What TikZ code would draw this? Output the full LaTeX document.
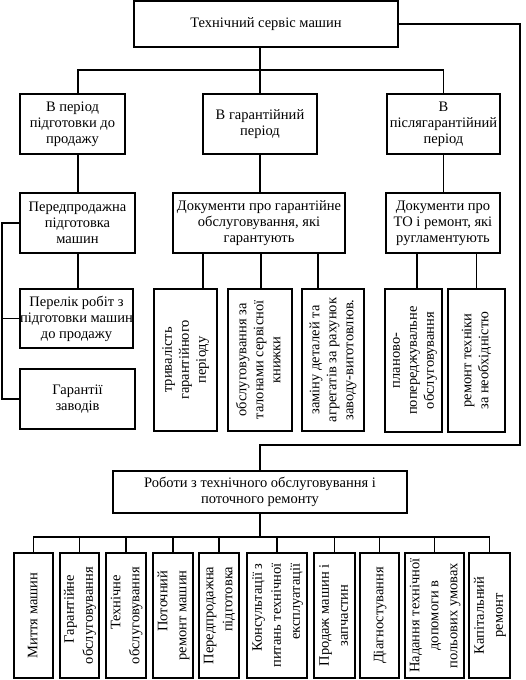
\documentclass[tikz,border=0pt]{standalone}
\usepackage{fontspec}
\setmainfont{Liberation Serif}
\newcommand{\vtext}[3]{\rotatebox{90}{\fontsize{14.5}{#1}\selectfont\begin{tabular}{@{}#2@{}}#3\end{tabular}}}
\begin{document}
\begin{tikzpicture}[x=1pt,y=-1pt,line width=1.9pt,
  box/.style={draw,line width=1.9pt,inner sep=0pt,align=center,font=\fontsize{14.5}{16}\selectfont},
  conn/.style={draw,line width=1.9pt}]
\useasboundingbox (0,0) rectangle (525,680);
% top level
\node[box,minimum width=264pt,minimum height=46pt] (top) at (266,24) {Технічний сервіс машин};
\node[box,minimum width=105pt,minimum height=60pt] (a) at (72.5,124) {В період\\підготовки до\\продажу};
\node[box,minimum width=114pt,minimum height=60pt] (b) at (260,124) {В гарантійний\\період};
\node[box,minimum width=113pt,minimum height=60pt] (c) at (443.5,124) {В\\післягарантійний\\період};
% level 3
\node[box,minimum width=115pt,minimum height=60pt] (a3) at (77.5,223) {Передпродажна\\підготовка\\машин};
\node[box,minimum width=172pt,minimum height=60pt] (docs) at (259,223) {Документи про гарантійне\\обслуговування, які\\гарантують};
\node[box,minimum width=114pt,minimum height=60pt] (c3) at (443,223) {Документи про\\ТО і ремонт, які\\ругламентують};
\node[box,minimum width=113pt,minimum height=59pt] (a4) at (76.5,318.5) {Перелік робіт з\\підготовки машин\\до продажу};
\node[box,minimum width=115pt,minimum height=60pt] (a5) at (77.5,399) {Гарантії\\заводів};
% vertical boxes, middle
\node[box,minimum width=63pt,minimum height=142pt] (v1) at (185.5,360) {\vtext{17}{c}{тривалість\\гарантійного\\періоду}};
\node[box,minimum width=64pt,minimum height=142pt] (v2) at (260,360) {\vtext{17}{c}{обслуговування за\\талонами сервісної\\книжки}};
\node[box,minimum width=62pt,minimum height=142pt] (v3) at (333,360) {\vtext{17}{c}{заміну деталей та\\агрегатів за рахунок\\заводу-виготовлюв.}};
\node[box,minimum width=57pt,minimum height=143pt] (v4) at (413.5,360.5) {\vtext{17}{c}{планово-\\попереджувальне\\обслуговування}};
\node[box,minimum width=57pt,minimum height=143pt] (v5) at (476.5,360.5) {\vtext{17}{c}{ремонт техніки\\за необхідністю}};
% bottom
\node[box,minimum width=294pt,minimum height=42pt] (bot) at (260,492) {Роботи з технічного обслуговування і\\поточного ремонту};
\node[box,minimum width=39pt,minimum height=125pt] (w1) at (33.5,615.5) {\vtext{19}{c}{Миття машин}};
\node[box,minimum width=39pt,minimum height=125pt] (w2) at (79.5,615.5) {\vtext{19}{r}{Гарантійне\hspace*{8pt}\\обслуговування}};
\node[box,minimum width=40pt,minimum height=125pt] (w3) at (126,615.5) {\vtext{19}{r}{Технічне\hspace*{8pt}\\обслуговування}};
\node[box,minimum width=40pt,minimum height=125pt] (w4) at (173,615.5) {\vtext{19}{r}{Поточний\\ремонт машин}};
\node[box,minimum width=40pt,minimum height=125pt] (w5) at (219,615.5) {\vtext{19}{r}{Передпродажна\\підготовка}};
\node[box,minimum width=60pt,minimum height=125pt] (w6) at (277,615.5) {\vtext{19}{r}{Консультації з\\питань технічної\\експлуатації}};
\node[box,minimum width=41pt,minimum height=125pt] (w7) at (334.5,615.5) {\vtext{19}{c}{Продаж машин і\\запчастин}};
\node[box,minimum width=39pt,minimum height=125pt] (w8) at (379.5,615.5) {\vtext{19}{c}{Діагностування}};
\node[box,minimum width=59pt,minimum height=125pt] (w9) at (434.5,615.5) {\vtext{19}{c}{Надання технічної\\допомоги в\\польових умовах}};
\node[box,minimum width=41pt,minimum height=125pt] (w10) at (489.5,615.5) {\vtext{19}{c}{Капітальний\\ремонт}};
% connectors top
\coordinate (topbus) at (260,70);
\coordinate (aT) at ([xshift=5.5pt]a.north);
\draw[conn] (top.south -| topbus) -- (topbus);
\draw[conn] (aT) |- (topbus);
\draw[conn] (b.north) -- (topbus);
\draw[conn] (c.north) |- (topbus);
\draw[conn] (aT |- a.south) -- (aT |- a3.north);
\draw[conn] (b.south) -- (b.south |- docs.north);
\draw[conn] (c.south) -- (c.south |- c3.north);
\draw[conn] (aT |- a3.south) -- (aT |- a4.north);
% left bracket
\coordinate (lb) at (2,0);
\draw[conn] (a3.west) -| (lb |- a5.west) -- (a5.west);
\draw[conn] (a4.west) -- (a4.west -| lb);
% docs children
\coordinate (v1t) at ([xshift=17.5pt]v1.north);
\coordinate (v2t) at ([xshift=1pt]v2.north);
\coordinate (v3t) at ([xshift=-15pt]v3.north);
\coordinate (v4t) at ([xshift=3.5pt]v4.north);
\coordinate (v5t) at (v5.north);
\draw[conn] (v1t) -- (v1t |- docs.south);
\draw[conn] (v2t) -- (v2t |- docs.south);
\draw[conn] (v3t) -- (v3t |- docs.south);
\draw[conn] (v4t) -- (v4t |- c3.south);
\draw[conn] (v5t) -- (v5t |- c3.south);
% right loop
\coordinate (rx) at (520,445);
\draw[conn] (top.east) -| (rx) -| (bot.north);
% bottom bus
\coordinate (bbus) at (260,537);
\draw[conn] (bot.south) -- (bbus);
\foreach \i in {1,...,10} {\draw[conn] (w\i.north) |- (bbus);}
\end{tikzpicture}
\end{document}
